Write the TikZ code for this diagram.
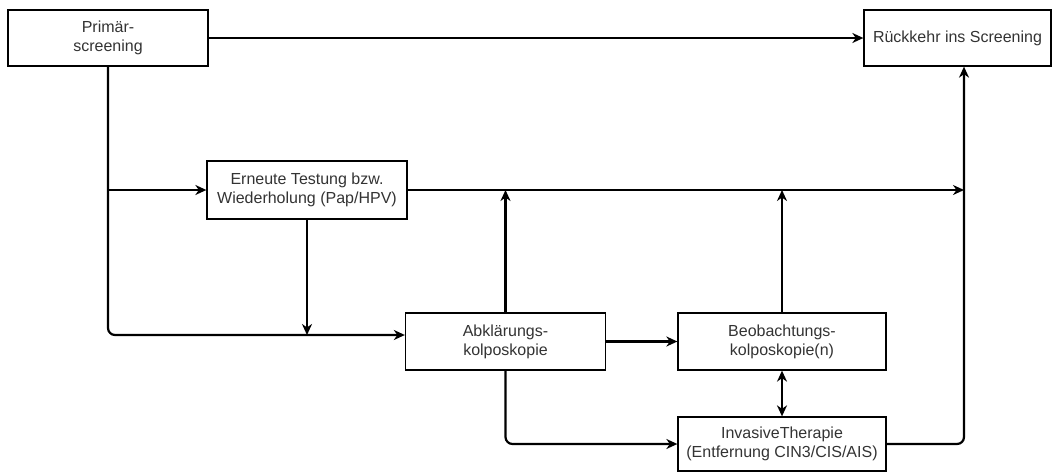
\documentclass[tikz,border=0pt]{standalone}
\usepackage{fontspec}
\setmainfont{Liberation Sans}
\usetikzlibrary{arrows.meta}

\begin{document}
\begin{tikzpicture}[x=1pt,y=1pt,yscale=-1,xscale=1,
    box/.style={draw, line width=1.3pt, rectangle, align=center, inner sep=0pt,
        text=black!80, font=\fontsize{16}{19}\selectfont},
    conn/.style={line width=2.2pt, -{Stealth[length=11pt,width=10pt,inset=3.5pt]}},
    both/.style={{Stealth[length=11pt,width=10pt,inset=3.5pt]}-{Stealth[length=11pt,width=10pt,inset=3.5pt]}}]
    %set diagram to 1053 x 472
    \useasboundingbox (0,0) rectangle (1053,472);

    % Boxes
    \node [box, minimum width=200, minimum height=56] (prim) at (108,38) {Primär-\\screening};
    \node [box, minimum width=187, minimum height=56] (rueck) at (957.5,38) {Rückkehr ins Screening};
    \node [box, minimum width=200, minimum height=58] (erneut) at (307,190) {Erneute Testung bzw.\\Wiederholung (Pap/HPV)};
    \node [box, minimum width=200, minimum height=57] (abkl) at (505.5,341.5) {Abklärungs-\\kolposkopie};
    \node [box, minimum width=208, minimum height=57] (beob) at (782,341.5) {Beobachtungs-\\kolposkopie(n)};
    \node [box, minimum width=208, minimum height=54] (inv) at (782,444) {InvasiveTherapie\\(Entfernung CIN3/CIS/AIS)};

    % Junction points
    \coordinate (abklin) at ([yshift=-6.5pt]abkl.west);
    \coordinate (ret) at ([xshift=6.5pt]rueck.south);

    % Connectors
    \draw [conn] (prim.east) -- (rueck.west);
    \draw [conn, rounded corners=7pt] (prim.south) |- (abklin);
    \draw [conn] (prim.south |- erneut.west) -- (erneut.west);
    \draw [conn] (erneut.south) -- (erneut.south |- abklin);
    \draw [conn] (erneut.east) -- (ret |- erneut.east);
    \draw [conn] (abkl.north) -- (abkl.north |- erneut.east);
    \draw [conn] (beob.north) -- (beob.north |- erneut.east);
    \draw [conn] (abkl.east) -- (beob.west);
    \draw [conn, both] (beob.south) -- (inv.north);
    \draw [conn, rounded corners=7pt] (abkl.south) |- (inv.west);
    \draw [conn, rounded corners=7pt] (inv.east) -| (ret);
\end{tikzpicture}
\end{document}
